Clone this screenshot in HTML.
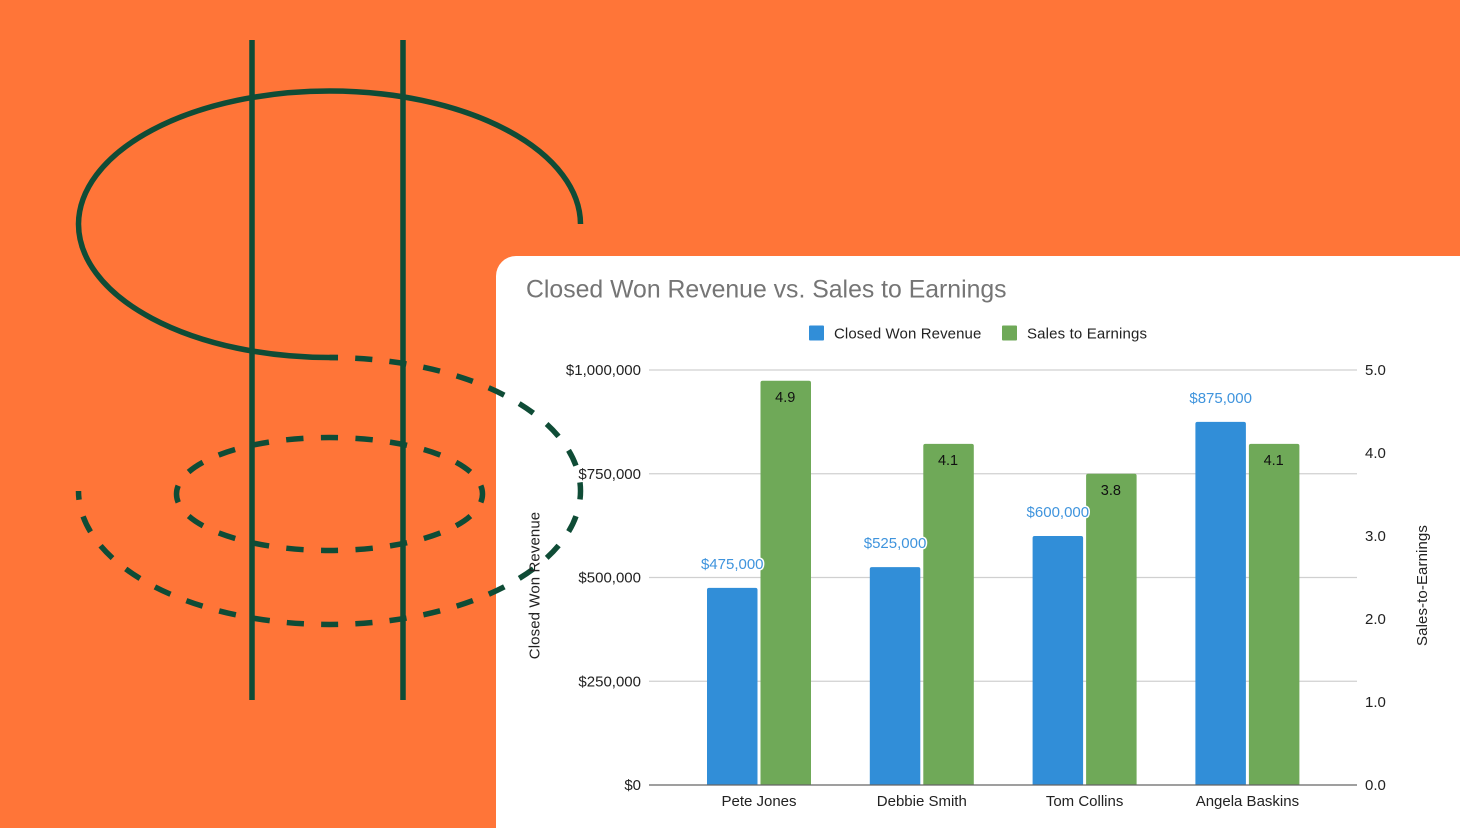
<!DOCTYPE html>
<html lang="en">
<head>
<meta charset="utf-8">
<title>Closed Won Revenue vs. Sales to Earnings</title>
<style>
html,body{margin:0;padding:0;background:#ff7538;width:1460px;height:828px;overflow:hidden}
svg{display:block}
text{font-family:"Liberation Sans",Arial,sans-serif}
</style>
</head>
<body>
<svg id="chart" width="1460" height="828" viewBox="0 0 1460 828" xmlns="http://www.w3.org/2000/svg">
  <rect x="0" y="0" width="1460" height="828" fill="#ff7538"/>
  <path d="M496 828V276a20 20 0 0 1 20-20H1460V828Z" fill="#ffffff"/>
  <g fill="none" stroke="#0f4c36" stroke-width="5.5">
    <path d="M252 40V700"/>
    <path d="M403 40V700"/>
    <path d="M580.5 224A251 133.5 0 0 0 329.5 91A251 133.5 0 0 0 78.5 224A251 133.5 0 0 0 329.5 357.5H338"/>
    <path pathLength="27" stroke-dasharray="0.5 0.5" stroke-dashoffset="0.25" d="M329.5 357.5A251 133.5 0 0 1 580.5 491A251 133.5 0 0 1 329.5 624.5A251 133.5 0 0 1 78.5 491"/>
    <path pathLength="20" stroke-dasharray="0.5 0.5" stroke-dashoffset="0.25" d="M329.5 437.5A153 56.5 0 0 1 482.5 494A153 56.5 0 0 1 329.5 550.5A153 56.5 0 0 1 176.5 494A153 56.5 0 0 1 329.5 437.5Z"/>
  </g>
  <text x="526" y="297.5" font-size="24.8" fill="#757575">Closed Won Revenue vs. Sales to Earnings</text>
  <g>
    <g>
      <rect x="809" y="325.5" width="15" height="15" rx="1" fill="#318ed8"/>
      <text x="834" y="338.5" font-size="15" letter-spacing="0.1" fill="#222222">Closed Won Revenue</text>
    </g>
    <g>
      <rect x="1002" y="325.5" width="15" height="15" rx="1" fill="#6fa958"/>
      <text x="1027" y="338.5" font-size="15" letter-spacing="0.15" fill="#222222">Sales to Earnings</text>
    </g>
  </g>
  <g id="grid"></g>
  <g id="bars"></g>
  <line x1="649" x2="1357" y1="785" y2="785" stroke="#666666" stroke-width="1.2"/>
  <g id="leftTicks"></g>
  <g id="rightTicks"></g>
  <g id="xLabels"></g>
  <g id="values"></g>
  <text transform="translate(539.5 585.5) rotate(-90)" text-anchor="middle" font-size="15" letter-spacing="0.1" fill="#222222">Closed Won Revenue</text>
  <text transform="translate(1427 585.5) rotate(-90)" text-anchor="middle" font-size="15" letter-spacing="0.1" fill="#222222">Sales-to-Earnings</text>
</svg>
<script>
const categories = ["Pete Jones", "Debbie Smith", "Tom Collins", "Angela Baskins"];
const revenueValues = [475000, 525000, 600000, 875000];
const earningsValues = [4.87, 4.11, 3.75, 4.11];
const revenueTicks = [0, 250000, 500000, 750000, 1000000];
const earningsTicks = [0, 1, 2, 3, 4, 5];

const SVGNS = "http://www.w3.org/2000/svg";
const plotBottom = 785, plotTop = 370, bandStart = 677.6, bandStep = 162.8;
const barWidth = 50.5, barGap = 3;
const money = v => "$" + v.toLocaleString("en-US");
const yRevenue = v => plotBottom - (v / revenueTicks[revenueTicks.length - 1]) * (plotBottom - plotTop);
const yEarnings = v => plotBottom - (v / earningsTicks[earningsTicks.length - 1]) * (plotBottom - plotTop);
const xCenter = i => bandStart + bandStep * (i + 0.5);

function make(tag, attrs, text) {
  const el = document.createElementNS(SVGNS, tag);
  for (const k in attrs) el.setAttribute(k, attrs[k]);
  if (text !== undefined) el.textContent = text;
  return el;
}
function barPath(x, y, w, r) {
  return "M" + x + " " + plotBottom + "V" + (y + r) + "Q" + x + " " + y + " " + (x + r) + " " + y +
    "H" + (x + w - r) + "Q" + (x + w) + " " + y + " " + (x + w) + " " + (y + r) + "V" + plotBottom + "Z";
}

const grid = document.getElementById("grid");
const leftTicks = document.getElementById("leftTicks");
const rightTicks = document.getElementById("rightTicks");
const bars = document.getElementById("bars");
const xLabels = document.getElementById("xLabels");
const values = document.getElementById("values");

revenueTicks.forEach(function (t) {
  if (t !== 0) {
    const line = make("line", {x1: 649, x2: 1357, y1: yRevenue(t), y2: yRevenue(t), stroke: "#d0d0d0", "stroke-width": 1.2});
    
    
    grid.appendChild(line);
  }
  const label = make("text", {x: 641, y: yRevenue(t) + 5, "text-anchor": "end", "font-size": 15, fill: "#222222"}, money(t));
  
  
  leftTicks.appendChild(label);
});

earningsTicks.forEach(function (t) {
  const label = make("text", {x: 1365, y: yEarnings(t) + 5, "font-size": 15, fill: "#222222"}, t.toFixed(1));
  
  
  rightTicks.appendChild(label);
});

categories.forEach(function (c, i) {
  const cx = xCenter(i);
  const ry = yRevenue(revenueValues[i]);
  const ey = yEarnings(earningsValues[i]);

  const blue = make("path", {d: barPath(cx - barGap / 2 - barWidth, ry, barWidth, 2), fill: "#318ed8"});
  
  
  bars.appendChild(blue);

  const green = make("path", {d: barPath(cx + barGap / 2, ey, barWidth, 2), fill: "#6fa958"});
  
  
  bars.appendChild(green);

  const revLabel = make("text", {
    x: cx - barGap / 2 - barWidth / 2, y: ry - 19, "text-anchor": "middle", "font-size": 15,
    fill: "#3f94dd", stroke: "#ffffff", "stroke-width": 3, "paint-order": "stroke", "stroke-linejoin": "round"
  }, money(revenueValues[i]));
  
  
  values.appendChild(revLabel);

  const earnLabel = make("text", {
    x: cx + barGap / 2 + barWidth / 2 - 0.5, y: ey + 21, "text-anchor": "middle", "font-size": 14.5, fill: "#111111"
  }, earningsValues[i].toFixed(1));
  
  
  values.appendChild(earnLabel);

  const catLabel = make("text", {x: cx, y: 806, "text-anchor": "middle", "font-size": 15, fill: "#222222"}, c);
  
  
  xLabels.appendChild(catLabel);
});
</script>
</body>
</html>
